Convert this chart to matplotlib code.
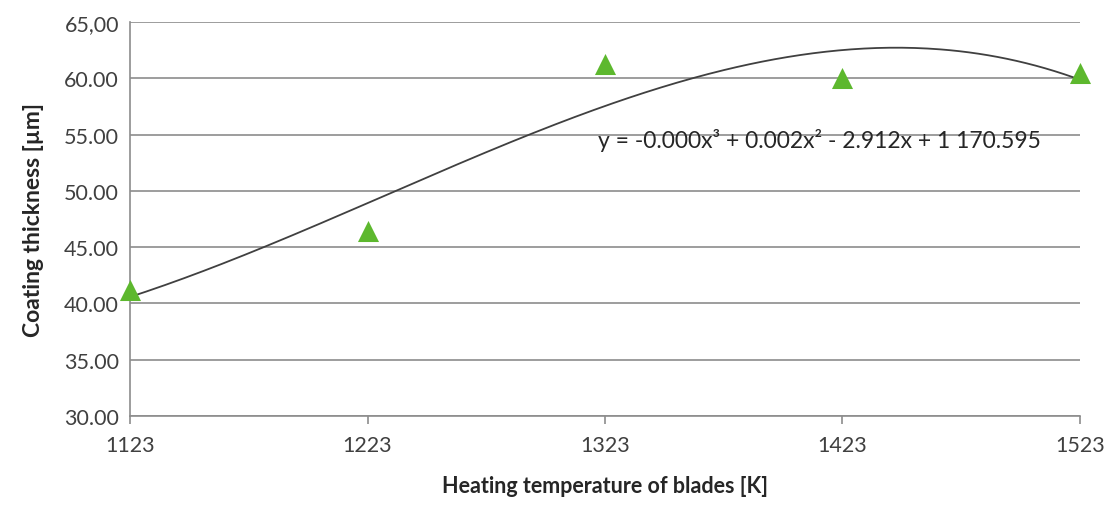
import numpy as np
import matplotlib
matplotlib.use("Agg")
import matplotlib.pyplot as plt

temperature = [1123, 1223, 1323, 1423, 1523]
thickness = [41.2, 46.4, 61.3, 60.0, 60.5]
y_ticks = [30, 35, 40, 45, 50, 55, 60, 65]
y_tick_labels = ["30.00", "35.00", "40.00", "45.00", "50.00", "55.00", "60.00", "65,00"]
equation = "y = -0.000x³ + 0.002x² - 2.912x + 1 170.595"

plt.rcParams['font.family'] = ['Lato', 'DejaVu Sans']

fig = plt.figure(figsize=(11.15, 5.06), dpi=100)
ax = fig.add_axes([0.1166, 0.176, 0.852, 0.7785])

# cubic trendline (least squares), like a spreadsheet polynomial trendline
poly = np.polynomial.Polynomial.fit(temperature, thickness, 3)
xs = np.linspace(temperature[0], temperature[-1], 300)
ax.plot(xs, poly(xs), color='#404040', lw=1.3, zorder=3)

ax.scatter(temperature, thickness, marker='^', s=230, color='#5db82e', zorder=4,
           linewidths=0, clip_on=False)

ax.set_xlim(temperature[0], temperature[-1])
ax.set_ylim(30, 65)
ax.set_xticks(temperature)
ax.set_xticklabels([str(t) for t in temperature])
ax.set_yticks(y_ticks)
ax.set_yticklabels(y_tick_labels)

ax.grid(axis='y', color='#8c8c8c', lw=1.2)
ax.set_axisbelow(True)
for s in ['top', 'right']:
    ax.spines[s].set_visible(False)
for s in ['left', 'bottom']:
    ax.spines[s].set_color('#8c8c8c')
    ax.spines[s].set_linewidth(1.2)

ax.tick_params(axis='x', direction='out', length=6, color='#8c8c8c', width=1.2,
               labelsize=15.5, labelcolor='#404040', pad=8)
ax.tick_params(axis='y', length=0, labelsize=15.5, labelcolor='#404040', pad=8)

ax.set_xlabel("Heating temperature of blades [K]", fontsize=15.5, fontweight='bold',
              color='#262626', labelpad=14)
ax.set_ylabel("Coating thickness [µm]", fontsize=16.5, fontweight='bold',
              color='#262626', labelpad=14)

ax.text(1320, 54.6, equation, fontsize=16.5, color='#262626', ha='left', va='center')

fig.savefig("out.png", dpi=100)
